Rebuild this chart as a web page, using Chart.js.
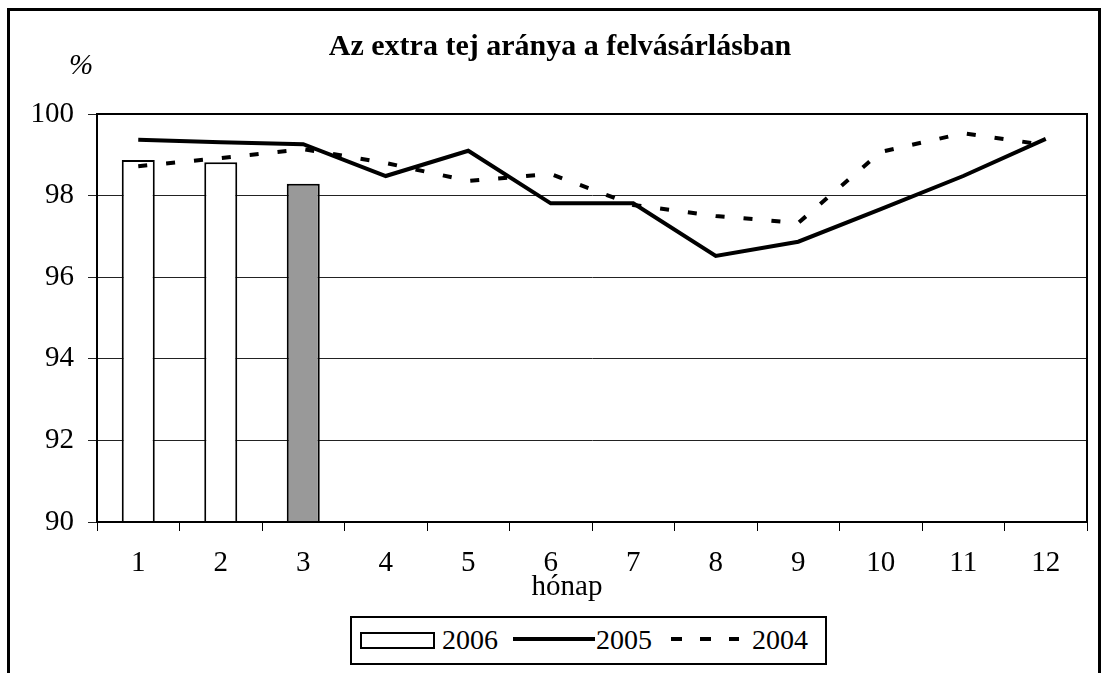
<!DOCTYPE html>
<html>
<head>
<meta charset="utf-8">
<script src="https://cdn.jsdelivr.net/npm/chart.js@4.4.0/dist/chart.umd.min.js"></script>
<style>
  html, body { margin: 0; padding: 0; background: #fff; }
  #wrap { position: absolute; left: 0; top: 0; width: 1109px; height: 673px; overflow: hidden; }
  #frame { position: absolute; left: 7px; top: 8px; width: 1094px; height: 800px; border: 3px solid #000; box-sizing: border-box; pointer-events: none; }
  #legend { position: absolute; left: 350px; top: 616px; width: 477px; height: 49px; border: 2px solid #000; box-sizing: border-box; background: #fff; }
  #legend .txt { position: absolute; top: 8px; font: 28px "Liberation Serif", "Times New Roman", serif; line-height: 1; color: #000; white-space: nowrap; }
</style>
</head>
<body>
<div id="wrap">
  <canvas id="grafico"></canvas>
  <div id="frame"></div>
  <div id="legend"></div>
</div>
<script>
// ------------- dati -------------
const honapok = ['1', '2', '3', '4', '5', '6', '7', '8', '9', '10', '11', '12'];
const ev2006 = [98.87, 98.82, 98.29, null, null, null, null, null, null, null, null, null];
const ev2005 = [99.37, 99.31, 99.26, 98.48, 99.10, 97.81, 97.81, 96.52, 96.87, 97.67, 98.48, 99.39];
const ev2004 = [98.72, 98.92, 99.14, 98.80, 98.36, 98.53, 97.77, 97.50, 97.33, 99.07, 99.53, 99.24];
const yTicks = [90, 92, 94, 96, 98, 100];
const evek = ['2006', '2005', '2004'];
const cim = 'Az extra tej aránya a felvásárlásban';
const xCim = 'hónap';
// ------------- dati -------------

const serif = '"Liberation Serif", "Times New Roman", serif';

// title, axis titles + plot frame
const keret = {
  id: 'keret',
  afterDraw(chart) {
    const { ctx, chartArea: a } = chart;
    ctx.save();
    ctx.strokeStyle = '#000';
    ctx.lineWidth = 2;
    ctx.strokeRect(a.left, a.top, a.right - a.left, a.bottom - a.top);
    ctx.fillStyle = '#000';
    ctx.textAlign = 'center';
    ctx.textBaseline = 'middle';
    ctx.font = 'bold 30px ' + serif;
    ctx.fillText(cim, 560, 47);
    ctx.font = 'italic 29px ' + serif;
    ctx.fillText('%', 81, 66);
    ctx.font = '29px ' + serif;
    ctx.fillText(xCim, 567, 587);
    ctx.restore();
  }
};

const ctx = document.getElementById('grafico').getContext('2d');
const chart = new Chart(ctx, {
  type: 'bar',
  data: {
    labels: honapok,
    datasets: [
      {
        type: 'line',
        label: evek[1],
        data: ev2005,
        borderColor: '#000',
        borderWidth: 4,
        pointRadius: 0,
        tension: 0,
        fill: false,
        order: 1
      },
      {
        type: 'line',
        label: evek[2],
        data: ev2004,
        borderColor: '#000',
        borderWidth: 4,
        borderDash: [9, 19],
        borderCapStyle: 'butt',
        pointRadius: 0,
        tension: 0,
        fill: false,
        order: 2
      },
      {
        type: 'bar',
        label: evek[0],
        data: ev2006,
        backgroundColor: ['#fff', '#fff', '#999999'],
        borderColor: '#000',
        borderWidth: 2,
        barPercentage: 0.4,
        categoryPercentage: 1,
        order: 3
      }
    ]
  },
  options: {
    responsive: true,
    maintainAspectRatio: false,
    animation: false,
    layout: { padding: { left: 10, right: 22, top: 114, bottom: 68 } },
    plugins: {
      legend: { display: false },
      tooltip: { enabled: false },
      title: { display: false }
    },
    scales: {
      x: {
        offset: true,
        grid: { offset: true, drawOnChartArea: false, color: '#000', lineWidth: 1, tickLength: 9 },
        border: { color: '#000', width: 2 },
        ticks: { color: '#000', font: { family: serif, size: 29 }, padding: 15, maxRotation: 0 },
        afterFit(s) { s.height = 83; }
      },
      y: {
        min: 90,
        max: 100,
        afterBuildTicks(s) { s.ticks = yTicks.map(v => ({ value: v })); },
        grid: { color: '#222', lineWidth: 1, tickLength: 9 },
        border: { color: '#000', width: 2 },
        ticks: { color: '#000', font: { family: serif, size: 29 }, padding: 14 },
        afterFit(s) { s.width = 87; }
      }
    }
  },
  plugins: [keret]
});

// ------------- legenda -------------
const leg = document.getElementById('legend');
function elem(css, html) {
  const d = document.createElement('div');
  d.style.cssText = 'position:absolute;' + css;
  if (html) d.innerHTML = html;
  leg.appendChild(d);
  return d;
}
function felirat(left, text) {
  const d = elem('left:' + left + 'px;');
  d.className = 'txt';
  d.textContent = text;
}
elem('left:8px;top:14px;width:75px;height:17px;border:2px solid #000;box-sizing:border-box;background:#fff;');
felirat(90, evek[0]);
elem('left:161px;top:19px;width:82px;height:4px;background:#000;');
felirat(244, evek[1]);
elem('left:319px;top:19px;width:68px;height:4px;',
  '<svg width="68" height="4" style="display:block"><line x1="0" y1="2" x2="68" y2="2" stroke="#000" stroke-width="4" stroke-dasharray="11 18"/></svg>');
felirat(400, evek[2]);
</script>
</body>
</html>
